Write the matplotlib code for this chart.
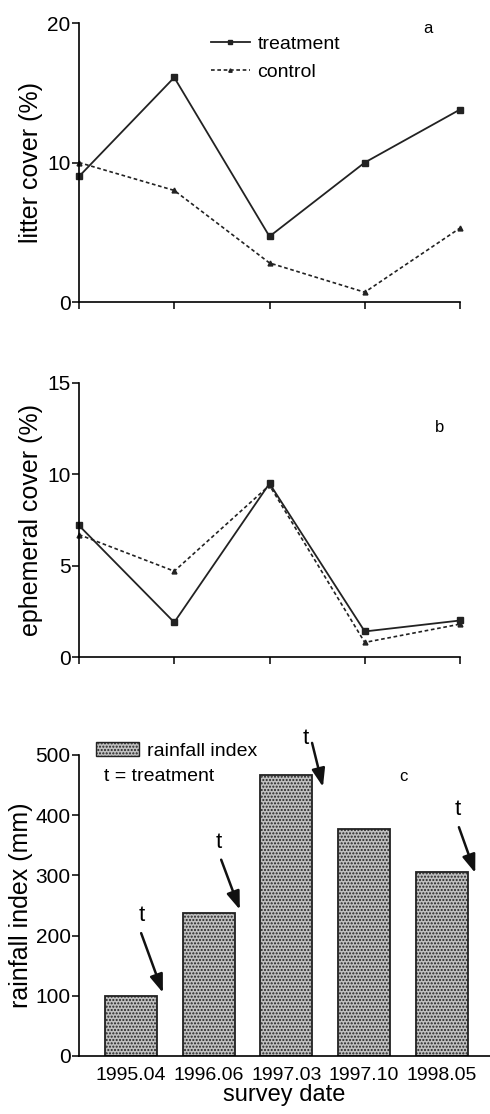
import matplotlib.pyplot as plt
from matplotlib.patches import Patch

plt.rcParams['font.family'] = ['Liberation Sans', 'DejaVu Sans']
plt.rcParams['hatch.color'] = '#8a8a8a'

dates = ['1995.04', '1996.06', '1997.03', '1997.10', '1998.05']

litter_treatment = [9.0, 16.1, 4.7, 10.0, 13.8]
litter_control = [10.0, 8.0, 2.8, 0.7, 5.3]

ephem_treatment = [7.2, 1.9, 9.5, 1.4, 2.0]
ephem_control = [6.7, 4.7, 9.4, 0.8, 1.8]

rainfall = [100, 237, 467, 377, 305]
treated = [0, 1, 2, 4]  # surveys that followed a treatment

x = list(range(len(dates)))
ctrl_style = (0, (2.2, 1.6))

# offsets from each treated bar top:
# (dx_tail, dy_tail, dx_head, dy_head, dx_t, dy_t)
arrow_offsets = {
    0: (0.13, 104, 0.41, 5, 0.14, 134),
    1: (0.16, 89, 0.40, 6, 0.13, 118),
    2: (0.33, 53, 0.47, -20, 0.25, 60),
    4: (0.22, 75, 0.43, -1, 0.20, 104),
}


def style_axis(ax):
    for s in ['top', 'right']:
        ax.spines[s].set_visible(False)
    ax.spines['left'].set_linewidth(1.2)
    ax.spines['bottom'].set_linewidth(1.2)
    ax.tick_params(direction='out', length=5, width=1.1, labelsize=15, pad=1)


fig = plt.figure(figsize=(4.9, 11.14), dpi=100)

# panel a: litter cover
ax1 = fig.add_axes([0.1612, 0.7289, 0.7776, 0.2504])
ax1.plot(x, litter_treatment, color='#222222', lw=1.3, marker='s', ms=4,
         label='treatment', clip_on=False)
ax1.plot(x, litter_control, color='#222222', lw=1.2, ls=ctrl_style, marker='^',
         ms=3.5, label='control', clip_on=False)
ax1.set_xlim(0, 4)
ax1.set_ylim(0, 20)
ax1.set_yticks([0, 10, 20])
ax1.set_xticks(x)
ax1.set_xticklabels([])
ax1.set_ylabel('litter cover (%)', fontsize=18, labelpad=3)
style_axis(ax1)
ax1.legend(loc='upper left', bbox_to_anchor=(0.3, 1.02), frameon=False,
           fontsize=14, handlelength=2.0, handletextpad=0.4, labelspacing=0.55,
           markerscale=0.7)
ax1.text(0.915, 0.982, 'a', transform=ax1.transAxes, fontsize=12, ha='center',
         va='center')

# panel b: ephemeral cover
ax2 = fig.add_axes([0.1612, 0.4102, 0.7776, 0.246])
ax2.plot(x, ephem_treatment, color='#222222', lw=1.3, marker='s', ms=4,
         clip_on=False)
ax2.plot(x, ephem_control, color='#222222', lw=1.2, ls=ctrl_style, marker='^',
         ms=3.5, clip_on=False)
ax2.set_xlim(0, 4)
ax2.set_ylim(0, 15)
ax2.set_yticks([0, 5, 10, 15])
ax2.set_xticks(x)
ax2.set_xticklabels([])
ax2.set_ylabel('ephemeral cover (%)', fontsize=18, labelpad=3)
style_axis(ax2)
ax2.text(0.945, 0.836, 'b', transform=ax2.transAxes, fontsize=12, ha='center',
         va='center')

# panel c: rainfall index bars
ax3 = fig.add_axes([0.1612, 0.0521, 0.8388, 0.2702])
ax3.bar(x, rainfall, width=0.67, facecolor='#c0c0c0', edgecolor='#222222',
        lw=1.3, hatch='.....')
ax3.set_xlim(-0.67, 4.62)
ax3.set_ylim(0, 500)
ax3.set_yticks(range(0, 501, 100))
ax3.set_xticks(x)
style_axis(ax3)
ax3.set_xticklabels(dates, fontsize=14)
ax3.tick_params(axis='x', length=0, pad=8)
ax3.set_ylabel('rainfall index (mm)', fontsize=18, labelpad=2)
ax3.set_xlabel('survey date', fontsize=17, labelpad=0)

for i in treated:
    dxt, dyt, dxh, dyh, dx_lab, dy_lab = arrow_offsets[i]
    ax3.annotate('', xy=(i + dxh, rainfall[i] + dyh),
                 xytext=(i + dxt, rainfall[i] + dyt),
                 arrowprops=dict(arrowstyle='-|>,head_length=1.1,head_width=0.4',
                                 color='#111111', lw=1.8, shrinkA=0, shrinkB=0),
                 annotation_clip=False)
    ax3.text(i + dx_lab, rainfall[i] + dy_lab, 't', fontsize=16,
             ha='center', va='center', clip_on=False)

ax3.legend(handles=[Patch(facecolor='#c0c0c0', edgecolor='#222222', hatch='.....')],
           labels=['rainfall index'], loc='upper left', bbox_to_anchor=(0.0, 1.1),
           frameon=False, fontsize=14, handlelength=2.2, handleheight=0.7,
           handletextpad=0.4)
ax3.text(0.06, 0.93, 't = treatment', transform=ax3.transAxes, fontsize=14,
         ha='left', va='center')
ax3.text(0.79, 0.93, 'c', transform=ax3.transAxes, fontsize=12, ha='center',
         va='center')

fig.savefig('out.png', dpi=100)
